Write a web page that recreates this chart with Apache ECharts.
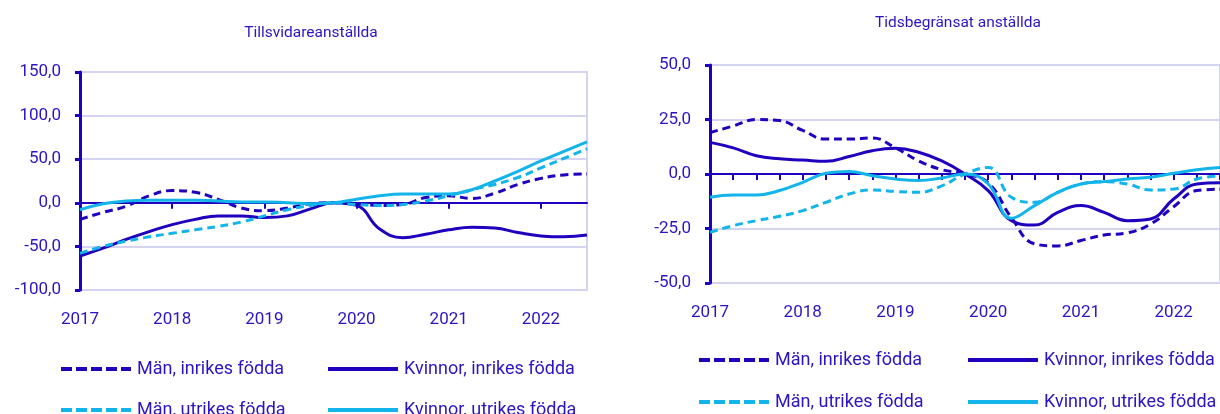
<!DOCTYPE html>
<html><head><meta charset="utf-8">
<script src="https://cdn.jsdelivr.net/npm/echarts@6/dist/echarts.min.js"></script>
<style>html,body{margin:0;padding:0;background:#fff}#c{width:1220px;height:414px}</style>
</head><body><div id="c"></div>
<script>
// Quarters 2017K1 .. 2022K3
const quarters = ['2017K1','2017K2','2017K3','2017K4','2018K1','2018K2','2018K3','2018K4','2019K1','2019K2','2019K3','2019K4','2020K1','2020K2','2020K3','2020K4','2021K1','2021K2','2021K3','2021K4','2022K1','2022K2','2022K3'];
const seriesNames = ['Män, inrikes födda','Kvinnor, inrikes födda','Män, utrikes födda','Kvinnor, utrikes födda'];
const leftTitle = 'Tillsvidareanställda';
const rightTitle = 'Tidsbegränsat anställda';

// Tillsvidareanställda
const tvMenInrikes   = [-19,-11,-4,8,14,12,4,-6,-9,-6,-1,0,-1,-3,-2,6,8,5,11,21,28,32,33];
const tvKvinnInrikes = [-61,-52,-42,-33,-25,-19,-15,-15,-17,-15,-7,0,-3,-30,-40,-36,-31,-28,-29,-34,-38,-39,-37];
const tvMenUtrikes   = [-58,-50,-44,-39,-35,-31,-27,-22,-15,-8,-3,0,-2,-3,-2,2,8,15,21,29,40,51,62];
const tvKvinnUtrikes = [-8,-1,2,3,3,3,2,1,1,0,-1,0,4,8,10,10,10,15,25,36,48,59,70];

// Tidsbegränsat anställda
const tbMenInrikes   = [19,22,25,24.5,20,16,16,16.5,12,6,2,0,-4,-20,-32,-33,-30.5,-28,-27,-23,-15,-7.6,-7];
const tbKvinnInrikes = [14.5,12,8.4,7,6.4,5.8,8,10.7,11.8,10,6,0,-7.6,-21.4,-23.4,-17.6,-14.5,-17.6,-21.4,-20.6,-11.5,-4.6,-4];
const tbMenUtrikes   = [-26.8,-23.7,-21.4,-19.4,-16.8,-13,-9.2,-7.3,-8,-8.4,-5.4,0,3,-10.7,-13,-8.4,-4.6,-3.5,-4.6,-7.3,-6.9,-2.3,-1];
const tbKvinnUtrikes = [-10.7,-9.6,-9.6,-7.6,-3.8,0.3,1.2,-0.8,-2.3,-3,-1.8,0,-4.6,-20.3,-14.5,-8.4,-4.6,-3.5,-2.3,-1.5,0.3,2,3];

const DARK = '#1E00BE', LIGHT = '#12B4EA', GRID = '#D4D4F2', TXT = '#2A14C4';
const FONT = 'Roboto';
const colors = [DARK, DARK, LIGHT, LIGHT];
const dashed = [true, false, true, false];

function fmt(v){ return v.toFixed(1).replace('.', ','); }

function mkSeries(gridIdx, arrs){
  return arrs.map((d,k)=>({
    name: seriesNames[k], type:'line', data:d, smooth:0.45, symbol:'none',
    xAxisIndex: gridIdx*2, yAxisIndex: gridIdx,
    lineStyle:{color:colors[k], width:3, type: dashed[k] ? [8,5] : 'solid', cap:'butt'},
    itemStyle:{color:colors[k]}, z: 3
  }));
}
function mkX(gridIdx, tickInterval){
  return [
    {type:'category', gridIndex:gridIdx, data:quarters, boundaryGap:false, position:'bottom',
     axisLine:{show:false, onZero:false}, axisTick:{show:false}, splitLine:{show:false},
     axisLabel:{interval:3, color:TXT, fontFamily:FONT, fontSize:17, margin:21, formatter:v=>v.slice(0,4)}},
    {type:'category', gridIndex:gridIdx, data:quarters, boundaryGap:false, position:'bottom',
     axisLine:{show:true, onZero:true, lineStyle:{color:DARK, width:2}},
     axisTick:{show:true, interval:tickInterval, length:6, inside:false, lineStyle:{color:DARK, width:2}},
     axisLabel:{show:false}, splitLine:{show:false}, z: 2}
  ];
}
function mkY(gridIdx, min, max, interval){
  return {type:'value', gridIndex:gridIdx, min, max, interval,
    axisLine:{show:true, lineStyle:{color:DARK, width:3}},
    axisTick:{show:true, length:5, lineStyle:{color:DARK, width:3}},
    splitLine:{show:true, lineStyle:{color:GRID, width:2}},
    axisLabel:{color:TXT, fontFamily:FONT, fontSize:17, margin:19, formatter:fmt}};
}
function mkLegend(k, left, top){
  return {data:[seriesNames[k]], left, top, itemWidth:70, itemHeight:12, itemGap:0,
    itemStyle:{opacity:0}, lineStyle:{width:4, type: dashed[k] ? [11,4] : 'solid'},
    textStyle:{color:TXT, fontFamily:FONT, fontSize:18, padding:[0,0,0,1]}, selectedMode:false};
}

const chart = echarts.init(document.getElementById('c'), null, {renderer:'canvas'});
chart.setOption({
  animation:false,
  backgroundColor:'#fff',
  title:[
    {text:leftTitle, left:306, top:20, textAlign:'center', textStyle:{color:TXT, fontFamily:FONT, fontSize:15.5, fontWeight:'normal'}},
    {text:rightTitle, left:953, top:10, textAlign:'center', textStyle:{color:TXT, fontFamily:FONT, fontSize:15.5, fontWeight:'normal'}}
  ],
  grid:[
    {left:80, top:72, width:507, height:218, show:true, borderColor:GRID, borderWidth:2, backgroundColor:'transparent'},
    {left:710, top:65, width:520, height:218, show:true, borderColor:GRID, borderWidth:2, backgroundColor:'transparent'}
  ],
  xAxis:[...mkX(0,3), ...mkX(1,0)],
  yAxis:[mkY(0,-100,150,50), mkY(1,-50,50,25)],
  legend:[
    mkLegend(0, 54, 355), mkLegend(1, 321, 355),
    mkLegend(2, 54, 396), mkLegend(3, 321, 396),
    mkLegend(0, 692, 346), mkLegend(1, 961, 346),
    mkLegend(2, 692, 388), mkLegend(3, 961, 388)
  ],
  series:[
    ...mkSeries(0,[tvMenInrikes,tvKvinnInrikes,tvMenUtrikes,tvKvinnUtrikes]),
    ...mkSeries(1,[tbMenInrikes,tbKvinnInrikes,tbMenUtrikes,tbKvinnUtrikes])
  ]
});
</script></body></html>
